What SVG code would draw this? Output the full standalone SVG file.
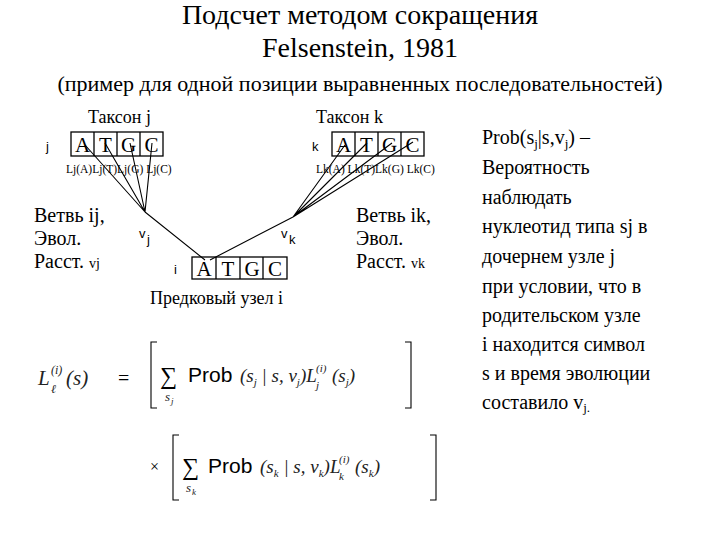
<svg xmlns="http://www.w3.org/2000/svg" width="720" height="540" viewBox="0 0 720 540">
<style>
.s{font-family:"Liberation Serif","Times New Roman","DejaVu Serif",serif;fill:#000}
.a{font-family:"Liberation Sans",Arial,sans-serif;fill:#000}
.i{font-family:"Liberation Serif","DejaVu Serif",serif;font-style:italic;fill:#222}
.b{fill:none;stroke:#000;stroke-width:1.3}
.c{stroke:#000;stroke-width:1.1;fill:none}
</style>
<rect width="720" height="540" fill="#fff"/>
<text class="s" x="360" y="24" font-size="28" text-anchor="middle">Подсчет методом сокращения</text>
<text class="s" x="360" y="57" font-size="28" text-anchor="middle">Felsenstein, 1981</text>
<text class="s" x="360" y="91" font-size="22" text-anchor="middle">(пример для одной позиции выравненных последовательностей)</text>

<g id="taxon-j">
<text class="s" x="88" y="123" font-size="18">Таксон j</text>
<text class="a" x="46" y="151" font-size="13">j</text>
<rect class="b" x="71" y="132" width="92" height="24"/>
<path class="b" d="M94 132V156M117 132V156M140 132V156"/>
<g class="s" font-size="21" text-anchor="middle"><text x="82.5" y="152">A</text><text x="105.5" y="152">T</text><text x="128.5" y="152">G</text><text x="151.5" y="152">C</text></g>
<text class="s" x="66" y="173" font-size="11.5">Lj(A)Lj(T)Lj(G)  Lj(C)</text>
</g>
<g id="taxon-k">
<text class="s" x="316" y="123" font-size="18">Таксон k</text>
<text class="a" x="312" y="151" font-size="13">k</text>
<rect class="b" x="332" y="132" width="92" height="24"/>
<path class="b" d="M355 132V156M378 132V156M401 132V156"/>
<g class="s" font-size="21" text-anchor="middle"><text x="343.5" y="152">A</text><text x="366.5" y="152">T</text><text x="389.5" y="152">G</text><text x="412.5" y="152">C</text></g>
<text class="s" x="316" y="173" font-size="11.5">Lk(A) Lk(T)Lk(G) Lk(C)</text>
</g>
<g id="ancestor">
<text class="a" x="174" y="274" font-size="13">i</text>
<rect class="b" x="192" y="257" width="95" height="22"/>
<path class="b" d="M216 257V279M240 257V279M263 257V279"/>
<g class="s" font-size="21" text-anchor="middle"><text x="204" y="276">A</text><text x="228" y="276">T</text><text x="252" y="276">G</text><text x="275" y="276">C</text></g>
<text class="s" x="150" y="304" font-size="18">Предковый узел i</text>
</g>
<g id="connectors">
<path class="c" d="M145 212L85 145M145 212L105 143M145 212L130 143M145 212L152 143M145 212L205 260"/>
<path class="c" d="M293 217L345 145M293 217L367 143M293 217L392 143M293 217L413 142M293 217L210 260"/>
</g>
<g id="labels">
<text class="a" x="139" y="238" font-size="13">v</text><text class="a" x="147" y="244" font-size="13">j</text>
<text class="a" x="281" y="238" font-size="13">v</text><text class="a" x="289" y="244" font-size="13">k</text>
<g class="s" font-size="20"><text x="34" y="222">Ветвь ij,</text><text x="34" y="245">Эвол.</text><text x="34" y="268">Расст. <tspan font-size="14">vj</tspan></text>
<text x="356" y="222">Ветвь ik,</text><text x="356" y="245">Эвол.</text><text x="356" y="268">Расст. <tspan font-size="14">vk</tspan></text></g>
</g>
<g id="note" class="s" font-size="20">
<text x="482" y="144">Prob(s<tspan font-size="13" dy="4">j</tspan><tspan dy="-4">|s,v</tspan><tspan font-size="13" dy="4">j</tspan><tspan dy="-4">) –</tspan></text>
<text x="482" y="174">Вероятность</text>
<text x="482" y="204">наблюдать</text>
<text x="482" y="233">нуклеотид типа sj в</text>
<text x="482" y="263">дочернем узле j</text>
<text x="482" y="293">при условии, что в</text>
<text x="482" y="322">родительском узле</text>
<text x="482" y="351">i находится символ</text>
<text x="482" y="380">s и время эволюции</text>
<text x="482" y="409">составило v<tspan font-size="13" dy="3">j.</tspan></text>
</g>
<g id="formula">
<text class="i" x="38" y="385" font-size="21">L</text><text class="i" x="51" y="393" font-size="12">ℓ</text><text class="i" x="51" y="374" font-size="12">(i)</text><text class="i" x="66" y="385" font-size="21">(s)</text>
<text class="s" x="118" y="385" font-size="20" fill="#333">=</text>
<path class="c" d="M157 342H151V408H157M405 342H411V408H405" stroke-width="1.6"/>
<text class="s" x="160" y="384" font-size="24">∑</text><text class="i" x="165" y="401" font-size="13">s</text><text class="i" x="171" y="404" font-size="9">j</text>
<text class="a" x="188" y="382" font-size="21" fill="#222">Prob</text>
<text class="i" x="240" y="382" font-size="19">(s<tspan font-size="11" dy="4">j</tspan><tspan dy="-4"> | s, v</tspan><tspan font-size="11" dy="4">j</tspan><tspan dy="-4">)L</tspan></text>
<text class="i" x="316" y="372" font-size="11">(i)</text><text class="i" x="316" y="389" font-size="11">j</text>
<text class="i" x="332" y="382" font-size="19">(s<tspan font-size="11" dy="4">j</tspan><tspan dy="-4">)</tspan></text>
<text class="s" x="150" y="472" font-size="16" fill="#444">×</text>
<path class="c" d="M179 435H173V500H179M430 435H436V500H430" stroke-width="1.6"/>
<text class="s" x="182" y="475" font-size="24">∑</text><text class="i" x="186" y="492" font-size="13">s</text><text class="i" x="192" y="495" font-size="9">k</text>
<text class="a" x="208" y="473" font-size="21" fill="#222">Prob</text>
<text class="i" x="260" y="473" font-size="19">(s<tspan font-size="11" dy="4">k</tspan><tspan dy="-4"> | s, v</tspan><tspan font-size="11" dy="4">k</tspan><tspan dy="-4">)L</tspan></text>
<text class="i" x="339" y="463" font-size="11">(i)</text><text class="i" x="339" y="480" font-size="11">k</text>
<text class="i" x="355" y="473" font-size="19">(s<tspan font-size="11" dy="4">k</tspan><tspan dy="-4">)</tspan></text>
</g>
</svg>
